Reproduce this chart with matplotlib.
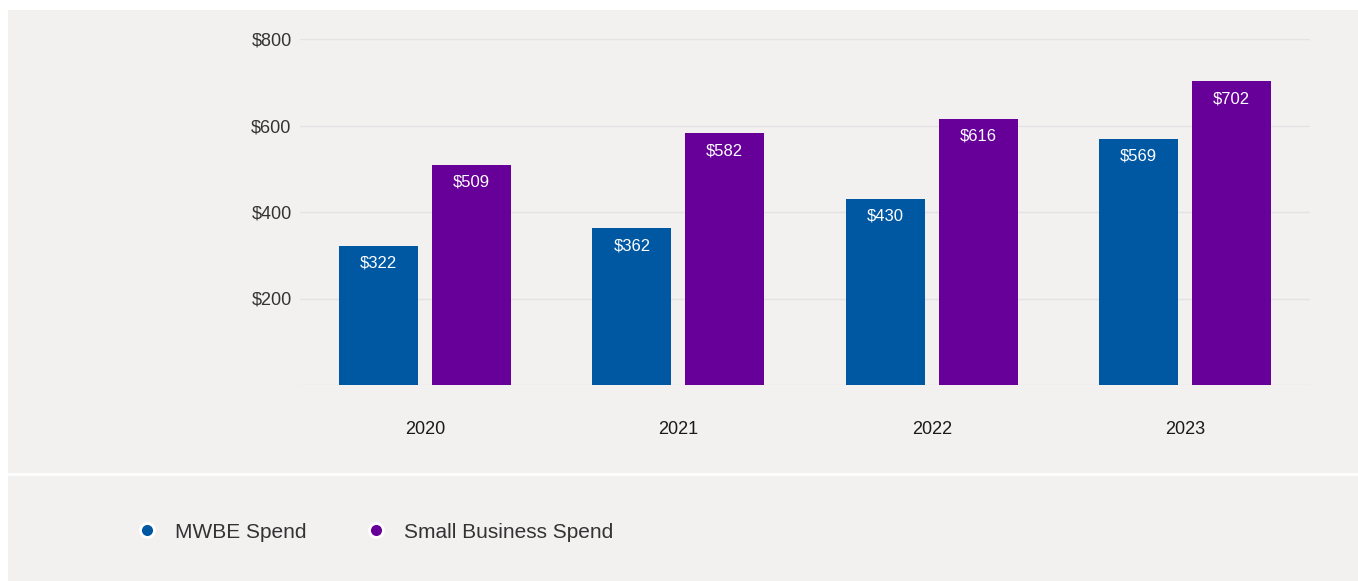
import matplotlib.pyplot as plt
from matplotlib.patches import Rectangle
from matplotlib.lines import Line2D
import numpy as np

plt.rcParams['font.family'] = ['Liberation Sans', 'DejaVu Sans']

# Spend by year (in $ millions)
years = ['2020', '2021', '2022', '2023']
mwbe_spend = [322, 362, 430, 569]
small_biz_spend = [509, 582, 616, 702]
series_names = ['MWBE Spend', 'Small Business Spend']
yticks = [200, 400, 600, 800]

blue = '#0058a3'
purple = '#660099'
panel = '#f3f0f0'

W, H = 1358, 581
fig = plt.figure(figsize=(W / 100, H / 100), dpi=100, facecolor='white')

# grey card behind the chart and legend
fig.add_artist(Rectangle((8 / W, 0), 1 - 8 / W, 1 - 10 / H, transform=fig.transFigure,
                         facecolor=panel, edgecolor='none', zorder=0))
fig.add_artist(Line2D([8 / W, 1], [1 - 474 / H] * 2, transform=fig.transFigure,
                      color='white', lw=2, zorder=1))

ax = fig.add_axes([300 / W, 1 - 385 / H, 1010 / W, 346 / H])
ax.set_facecolor('none')

x = np.arange(len(years))
width = 0.312
offset = 0.1834
b1 = ax.bar(x - offset, mwbe_spend, width, color=blue, zorder=3)
b2 = ax.bar(x + offset, small_biz_spend, width, color=purple, zorder=3)

for bars, vals in [(b1, mwbe_spend), (b2, small_biz_spend)]:
    for rect, v in zip(bars, vals):
        ax.annotate(f'${v}', (rect.get_x() + rect.get_width() / 2, v),
                    xytext=(0, -12.5), textcoords='offset points',
                    ha='center', va='center', color='white', fontsize=12, zorder=4)

ax.set_xlim(-0.493, len(years) - 1 + 0.493)
ax.set_ylim(0, 800)
ax.set_yticks(yticks)
ax.set_yticklabels([f'${t}' for t in yticks])
ax.set_xticks(x)
ax.set_xticklabels(years)
ax.tick_params(axis='y', length=0, pad=6, labelsize=13, labelcolor='#333333')
ax.tick_params(axis='x', length=0, pad=26, labelsize=13, labelcolor='#1a1a1a')
ax.grid(axis='y', color='#e3e3e3', lw=1, zorder=0)
ax.axhline(0, color='#e3e3e3', lw=1, zorder=0)
for s in ax.spines.values():
    s.set_visible(False)

# legend row
legend_x = [147, 376]
for name, color, lx in zip(series_names, [blue, purple], legend_x):
    fig.add_artist(Line2D([lx / W], [1 - 530 / H], transform=fig.transFigure, marker='o',
                          markersize=10, markerfacecolor=color, markeredgecolor='white',
                          markeredgewidth=2, linestyle='none', zorder=2))
    fig.text((lx + 28) / W, 1 - 533 / H, name, fontsize=15, color='#333333',
             va='center', ha='left')

fig.savefig('out.png', dpi=100, facecolor='white')
